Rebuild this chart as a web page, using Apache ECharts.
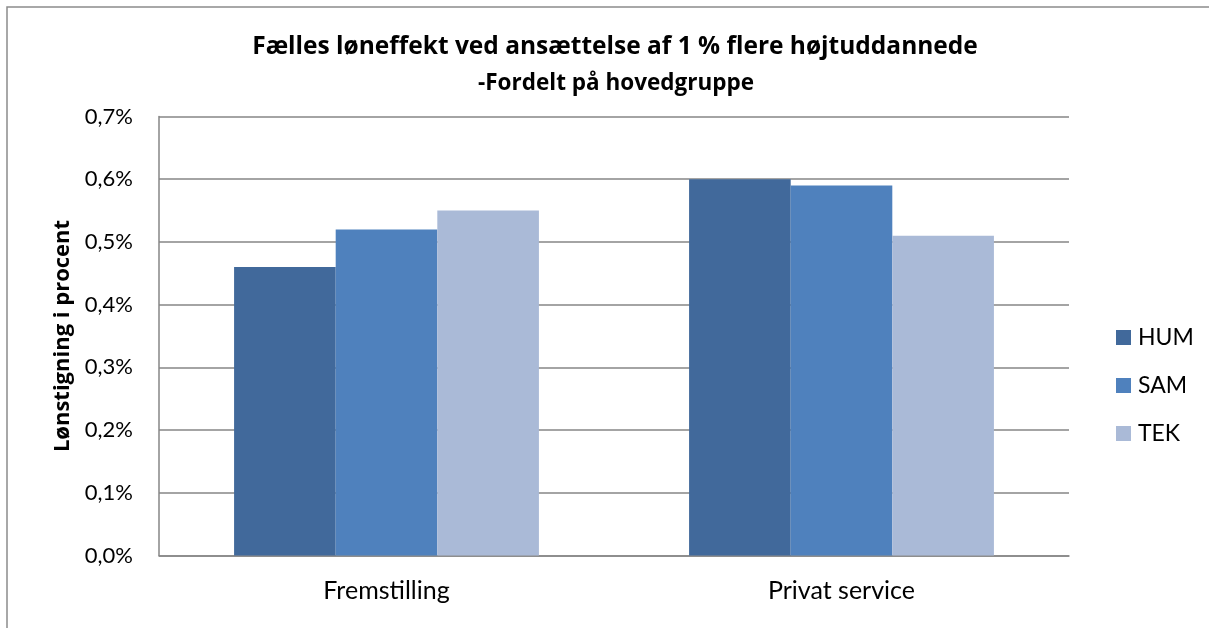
<!DOCTYPE html>
<html>
<head>
<meta charset="utf-8">
<title>Fælles løneffekt</title>
<script src="https://cdn.jsdelivr.net/npm/echarts@6/dist/echarts.min.js"></script>
<style>
  html, body { margin: 0; padding: 0; background: #fff; }
  #chart { width: 1209px; height: 628px; }
</style>
</head>
<body>
<div id="chart"></div>
<script>
// data
const categories = ['Fremstilling', 'Privat service']
const seriesNames = ['HUM', 'SAM', 'TEK']
const humValues = [0.46, 0.60]
const samValues = [0.52, 0.59]
const tekValues = [0.55, 0.51]
const yTicks = [0, 0.1, 0.2, 0.3, 0.4, 0.5, 0.6, 0.7]

const colors = ['#41699b', '#4f81bd', '#aabad7']
const font = 'Lato, "Open Sans", sans-serif'
const boldFont = '"Open Sans", Lato, sans-serif'

const chart = echarts.init(document.getElementById('chart'))

const option = {
  backgroundColor: '#fff',
  color: colors,
  textStyle: { fontFamily: font },
  graphic: [
    {
      // outer chart border (only top/left are visible in the frame)
      type: 'rect',
      shape: { x: 7, y: 7, width: 1400, height: 1000 },
      style: { fill: 'none', stroke: '#8c8c8c', lineWidth: 1.5 },
      silent: true
    }
  ],
  title: [
    {
      text: 'Fælles løneffekt ved ansættelse af 1 % flere højtuddannede',
      left: 610,
      top: 29.5,
      textAlign: 'center',
      textStyle: { fontFamily: boldFont, fontSize: 24.5, fontWeight: 'bold', color: '#000' }
    },
    {
      text: '-Fordelt på hovedgruppe',
      left: 611,
      top: 67.5,
      textAlign: 'center',
      textStyle: { fontFamily: boldFont, fontSize: 22.5, fontWeight: 'bold', color: '#000' }
    }
  ],
  legend: {
    orient: 'vertical',
    left: 1111,
    top: 321,
    itemWidth: 15,
    itemHeight: 15,
    itemGap: 25,
    icon: 'rect',
    data: seriesNames,
    textStyle: { fontFamily: font, fontSize: 23, color: '#000', padding: [0, 0, 0, 2] }
  },
  grid: {
    left: 159,
    right: 140,
    top: 116.5,
    bottom: 72.5,
    containLabel: false
  },
  xAxis: {
    type: 'category',
    data: categories,
    axisLine: { lineStyle: { color: '#868686', width: 1.5 } },
    axisTick: { show: false },
    axisLabel: { fontFamily: font, fontSize: 25, color: '#000', margin: 23 }
  },
  yAxis: {
    type: 'value',
    min: 0,
    max: 0.7,
    interval: 0.1,
    name: 'Lønstigning i procent',
    nameLocation: 'middle',
    nameGap: 74,
    nameTextStyle: { fontFamily: boldFont, fontSize: 22, fontWeight: 'bold', color: '#000' },
    axisLine: { show: true, lineStyle: { color: '#868686', width: 1.5 } },
    axisTick: { show: false },
    axisLabel: {
      fontFamily: font,
      fontSize: 22,
      color: '#000',
      margin: 26,
      formatter: v => {
        const t = yTicks.find(x => Math.abs(x - v) < 1e-9)
        return (t !== undefined ? t : v).toFixed(1).replace('.', ',') + '%'
      }
    },
    splitLine: { lineStyle: { color: '#868686', width: 1.5 } }
  },
  series: [
    { name: seriesNames[0], type: 'bar', data: humValues, barGap: '0%', barCategoryGap: '33%' },
    { name: seriesNames[1], type: 'bar', data: samValues, barGap: '0%', barCategoryGap: '33%' },
    { name: seriesNames[2], type: 'bar', data: tekValues, barGap: '0%', barCategoryGap: '33%' }
  ]
}

chart.setOption(option)
</script>
</body>
</html>
